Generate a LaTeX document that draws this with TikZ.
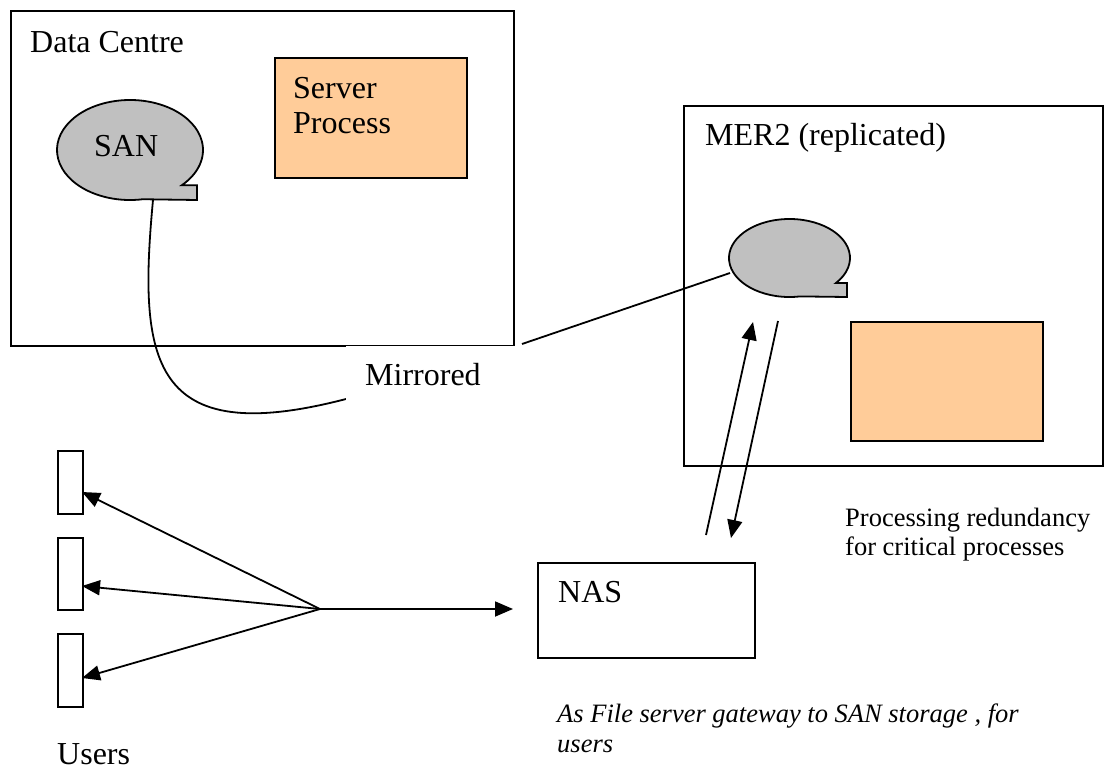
\documentclass[tikz,border=0pt]{standalone}
\usepackage{fontspec}
\setmainfont{Liberation Serif}
\usetikzlibrary{arrows.meta}
\definecolor{peach}{HTML}{FFCC99}
\definecolor{sangray}{HTML}{C0C0C0}
\begin{document}
\begin{tikzpicture}[x=1pt,y=-1pt,
  frame/.style={draw,line width=1.8pt,inner sep=0,anchor=north west},
  lbl/.style={inner sep=0,anchor=base west,font=\fontsize{32}{36}\selectfont},
  small/.style={inner sep=0,anchor=base west,font=\fontsize{26.5}{30}\selectfont},
  conn/.style={line width=1.8pt},
  arr/.style={conn,-{Triangle[length=18pt,width=15pt]}},
  callout/.style={draw,line width=1.8pt,fill=sangray,line join=miter}]
\useasboundingbox (0,0) rectangle (1104,771);
\fill[white] (0,0) rectangle (1104,771);

% Data Centre
\node[frame,minimum width=503pt,minimum height=335pt] (dc) at (10,10) {};
\node[lbl] (dctext) at (30,52) {Data Centre};
\node[frame,fill=peach,minimum width=192pt,minimum height=120pt] (sp) at (274,57) {};
\node[lbl] (sp1) at (293,98) {Server};
\node[lbl] (sp2) at (293,133) {Process};

% SAN callout
\draw[callout] (130,150) ++(80:73 and 50) arc[start angle=80,end angle=404.8,x radius=73,y radius=50]
  -- (197,185.2) -- (197,200) -- cycle;
\node[lbl] (san) at (94,156) {SAN};
\coordinate (san1b) at (153,200);

% MER2
\node[frame,minimum width=419pt,minimum height=360pt] (mer) at (683,105) {};
\node[lbl] (mertext) at (705,145) {MER2 (replicated)};
\draw[callout] (789.5,258) ++(80:60.5 and 39) arc[start angle=80,end angle=400,x radius=60.5,y radius=39]
  -- (847,283) -- (847,297) -- cycle;
\coordinate (san2l) at (730,273);
\node[frame,fill=peach,minimum width=192pt,minimum height=119pt] (sp2box) at (850,321) {};

% Mirrored
\coordinate (mircurve) at (346,399);
\coordinate (mirline) at (522,344);
\draw[conn] (san1b) .. controls (138,360) and (150,450) .. (mircurve);
\draw[conn] (san2l) -- (mirline);
\node[fill=white,inner sep=0,minimum width=176pt,minimum height=62pt,anchor=north west] (mirbox) at (346,345.4) {};
\node[lbl] (mir) at (365,385) {Mirrored};

% NAS <-> SAN2 arrows
\coordinate (a1s) at (706,535);
\coordinate (a1e) at (753,322);
\coordinate (a2s) at (778,321);
\coordinate (a2e) at (731,538);
\draw[arr] (a1s) -- (a1e);
\draw[arr] (a2s) -- (a2e);

\node[small] (proc1) at (845,526) {Processing redundancy};
\node[small] (proc2) at (845,555) {for critical processes};

% NAS
\node[frame,minimum width=217pt,minimum height=95pt] (nas) at (537,562) {};
\node[lbl] (nastext) at (558,602) {NAS};
\node[small,font=\fontsize{26.5}{30}\selectfont\itshape] (as1) at (557,722) {As File server gateway to SAN storage , for};
\node[small,font=\fontsize{26.5}{30}\selectfont\itshape] (as2) at (557,752) {users};

% Users
\node[frame,minimum width=25pt,minimum height=63pt] (u1) at (57,450) {};
\node[frame,minimum width=25pt,minimum height=72pt] (u2) at (57,537) {};
\node[frame,minimum width=25pt,minimum height=73pt] (u3) at (57,633) {};
\coordinate (fan) at (320,609);
\coordinate (t1) at (82,492);
\coordinate (t2) at (82,586);
\coordinate (t3) at (82,678);
\coordinate (tn) at (513,609);
\draw[arr] (fan) -- (t1);
\draw[arr] (fan) -- (t2);
\draw[arr] (fan) -- (t3);
\draw[arr] (fan) -- (tn);
\node[lbl] (users) at (57,764) {Users};
\end{tikzpicture}
\end{document}
